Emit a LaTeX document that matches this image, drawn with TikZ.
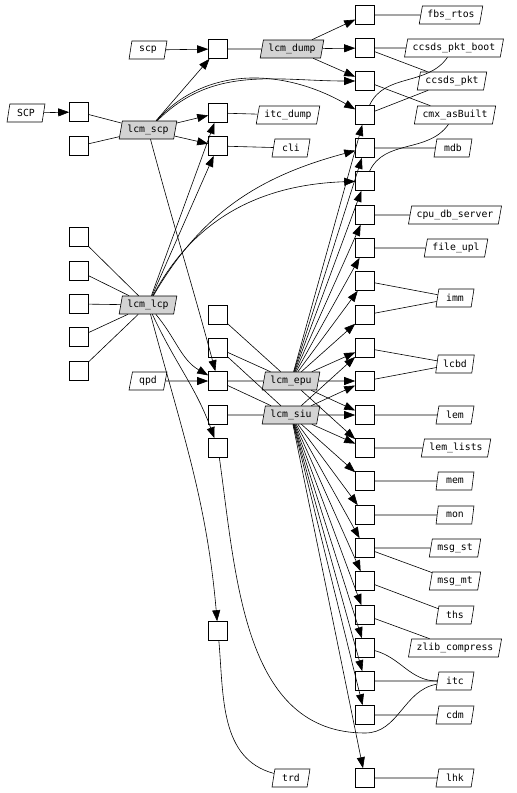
\documentclass[tikz,border=0pt]{standalone}
\usepackage{fontspec}
\setmonofont{DejaVu Sans Mono}
\usetikzlibrary{shapes.geometric,arrows.meta}
\definecolor{pkggray}{RGB}{211,211,211}
\tikzset{
  box/.style={draw,fill=white,minimum size=19pt,inner sep=0pt},
  pkg/.style={draw,fill=white,trapezium,trapezium left angle=72,trapezium right angle=108,trapezium stretches=true,minimum height=18pt,minimum width=38pt,inner xsep=5pt,inner ysep=0pt,font=\ttfamily\fontsize{9.8}{11}\selectfont},
  lcm/.style={pkg,fill=pkggray},
  dep/.style={-{Triangle[length=11pt,width=8pt]}}
}
\begin{document}
\begin{tikzpicture}[x=1pt,y=-1pt,line width=0.6pt]
  \useasboundingbox (0,0) rectangle (517,793);
  % packages
  \node[pkg] (SCP) at (26,113) {SCP};
  \node[pkg] (scp) at (148,50) {scp};
  \node[pkg] (qpd) at (148,381) {qpd};
  \node[lcm] (lcmscp) at (148,130) {lcm\_scp};
  \node[lcm] (lcmlcp) at (148,305) {lcm\_lcp};
  \node[lcm] (lcmdump) at (292,49) {lcm\_dump};
  \node[lcm] (lcmepu) at (291,381) {lcm\_epu};
  \node[lcm] (lcmsiu) at (291,415) {lcm\_siu};
  \node[pkg] (itcdump) at (288,115) {itc\_dump};
  \node[pkg] (cli) at (291,148) {cli};
  \node[pkg] (trd) at (291,778) {trd};
  % left boxes
  \node[box] (scpin) at (79,112) {}; \node[box] (scpx) at (79,146) {};
  \node[box] (lcpa) at (79,237) {}; \node[box] (lcpb) at (79,271) {}; \node[box] (lcpc) at (79,304) {};
  \node[box] (lcpd) at (79,337) {}; \node[box] (lcpe) at (79,371) {};
  % middle boxes
  \node[box] (dumpin) at (218,49) {}; \node[box] (itcdumpin) at (218,113) {}; \node[box] (cliin) at (218,146) {};
  \node[box] (epua) at (218,315) {}; \node[box] (epub) at (218,348) {}; \node[box] (qpdin) at (218,381) {};
  \node[box] (siua) at (218,415) {}; \node[box] (itcin) at (218,448) {}; \node[box] (trdin) at (218,631) {};
  % right boxes
  \node[box] (b1) at (365,15) {}; \node[box] (b2) at (365,48) {}; \node[box] (b3) at (365,81) {};
  \node[box] (b4) at (365,115) {}; \node[box] (b5) at (365,148) {}; \node[box] (b6) at (365,181) {};
  \node[box] (b7) at (365,215) {}; \node[box] (b8) at (365,248) {}; \node[box] (b9) at (365,281) {};
  \node[box] (b10) at (365,315) {}; \node[box] (b11) at (365,348) {}; \node[box] (b12) at (365,381) {};
  \node[box] (b13) at (365,415) {}; \node[box] (b14) at (365,448) {}; \node[box] (b15) at (365,481) {};
  \node[box] (b16) at (365,515) {}; \node[box] (b17) at (365,548) {}; \node[box] (b18) at (365,581) {};
  \node[box] (b19) at (365,615) {}; \node[box] (b20) at (365,648) {}; \node[box] (b21) at (365,681) {};
  \node[box] (b22) at (365,715) {}; \node[box] (b23) at (365,778) {};
  % right labels
  \node[pkg] (fbs) at (451,15) {fbs\_rtos};
  \node[pkg] (boot) at (454,48) {ccsds\_pkt\_boot};
  \node[pkg] (pkt) at (452,81) {ccsds\_pkt};
  \node[pkg] (cmx) at (455,115) {cmx\_asBuilt};
  \node[pkg] (mdb) at (453,148) {mdb};
  \node[pkg] (cpudb) at (455,215) {cpu\_db\_server};
  \node[pkg] (fileupl) at (456,248) {file\_upl};
  \node[pkg] (imm) at (455,298) {imm};
  \node[pkg] (lcbd) at (455,364) {lcbd};
  \node[pkg] (lem) at (455,415) {lem};
  \node[pkg] (lemlists) at (456,448) {lem\_lists};
  \node[pkg] (mem) at (455,481) {mem};
  \node[pkg] (mon) at (455,515) {mon};
  \node[pkg] (msgst) at (455,548) {msg\_st};
  \node[pkg] (msgmt) at (455,581) {msg\_mt};
  \node[pkg] (ths) at (455,615) {ths};
  \node[pkg] (zlib) at (455,648) {zlib\_compress};
  \node[pkg] (itc) at (455,681) {itc};
  \node[pkg] (cdm) at (455,715) {cdm};
  \node[pkg] (lhk) at (455,778) {lhk};
  \coordinate (itcbend) at (365,733);
  % inputs
  \draw[dep] (SCP) -- (scpin); \draw[dep] (scp) -- (dumpin); \draw[dep] (qpd) -- (qpdin);
  \draw (scpin) -- (lcmscp); \draw (scpx) -- (lcmscp);
  \draw (lcpa) -- (lcmlcp); \draw (lcpb) -- (lcmlcp); \draw (lcpc) -- (lcmlcp); \draw (lcpd) -- (lcmlcp); \draw (lcpe) -- (lcmlcp);
  \draw (dumpin) -- (lcmdump); \draw (itcdumpin) -- (itcdump); \draw (cliin) -- (cli);
  \draw (epua) -- (lcmepu); \draw (epub) -- (lcmepu); \draw (qpdin) -- (lcmepu);
  \draw (epub) -- (lcmsiu); \draw (qpdin) -- (lcmsiu); \draw (siua) -- (lcmsiu);
  % lcm_scp and lcm_lcp
  \draw[dep] (lcmscp) -- (dumpin); \draw[dep] (lcmscp) -- (itcdumpin); \draw[dep] (lcmscp) -- (cliin);
  \draw[dep] (lcmscp) to[out=45,in=180] (b3); \draw[dep] (lcmscp) to[out=48,in=150] (b4);
  \draw[dep] (lcmscp) to[out=-75,in=105] (qpdin);
  \draw[dep] (lcmlcp) -- (itcdumpin); \draw[dep] (lcmlcp) -- (cliin);
  \draw[dep] (lcmlcp) to[out=60,in=195] (b5); \draw[dep] (lcmlcp) to[out=62,in=182] (b6);
  \draw[dep] (lcmlcp) to[out=-50,in=150] (qpdin); \draw[dep] (lcmlcp) to[out=-65,in=110] (itcin);
  \draw[dep] (lcmlcp) to[out=-75,in=95] (trdin);
  \draw (trdin) to[out=-85,in=165] (trd);
  \draw (itcin) to[out=-82,in=180] (itcbend) to[out=0,in=190] (itc);
  % lcm_dump
  \draw[dep] (lcmdump) -- (b1); \draw[dep] (lcmdump) -- (b2); \draw[dep] (lcmdump) -- (b3);
  % lcm_epu
  \draw[dep] (lcmepu) -- (b4); \draw[dep] (lcmepu) -- (b5); \draw[dep] (lcmepu) -- (b6); \draw[dep] (lcmepu) -- (b7);
  \draw[dep] (lcmepu) -- (b8); \draw[dep] (lcmepu) -- (b9); \draw[dep] (lcmepu) -- (b10); \draw[dep] (lcmepu) -- (b11);
  \draw[dep] (lcmepu) -- (b12); \draw[dep] (lcmepu) -- (b13); \draw[dep] (lcmepu) -- (b14);
  % lcm_siu
  \draw[dep] (lcmsiu) -- (b11); \draw[dep] (lcmsiu) -- (b12); \draw[dep] (lcmsiu) -- (b13); \draw[dep] (lcmsiu) -- (b14);
  \draw[dep] (lcmsiu) -- (b15); \draw[dep] (lcmsiu) -- (b16); \draw[dep] (lcmsiu) -- (b17); \draw[dep] (lcmsiu) -- (b18);
  \draw[dep] (lcmsiu) -- (b19); \draw[dep] (lcmsiu) -- (b20); \draw[dep] (lcmsiu) -- (b21); \draw[dep] (lcmsiu) -- (b22);
  \draw[dep] (lcmsiu) -- (b23);
  % right links
  \draw (b1) -- (fbs); \draw (b2) -- (boot); \draw (b2) -- (pkt); \draw (b3) -- (cmx); \draw (b4) -- (pkt);
  \draw (b4) to[out=65,in=235] (boot); \draw (b6) to[out=65,in=235] (cmx); \draw (b5) -- (mdb);
  \draw (b7) -- (cpudb); \draw (b8) -- (fileupl); \draw (b9) -- (imm); \draw (b10) -- (imm);
  \draw (b11) -- (lcbd); \draw (b12) -- (lcbd); \draw (b13) -- (lem); \draw (b14) -- (lemlists);
  \draw (b15) -- (mem); \draw (b16) -- (mon); \draw (b17) -- (msgst); \draw (b17) -- (msgmt);
  \draw (b18) -- (ths); \draw (b19) -- (zlib); \draw (b20) to[out=-15,in=180] (itc); \draw (b21) -- (itc);
  \draw (b22) -- (cdm); \draw (b23) -- (lhk);
\end{tikzpicture}
\end{document}
